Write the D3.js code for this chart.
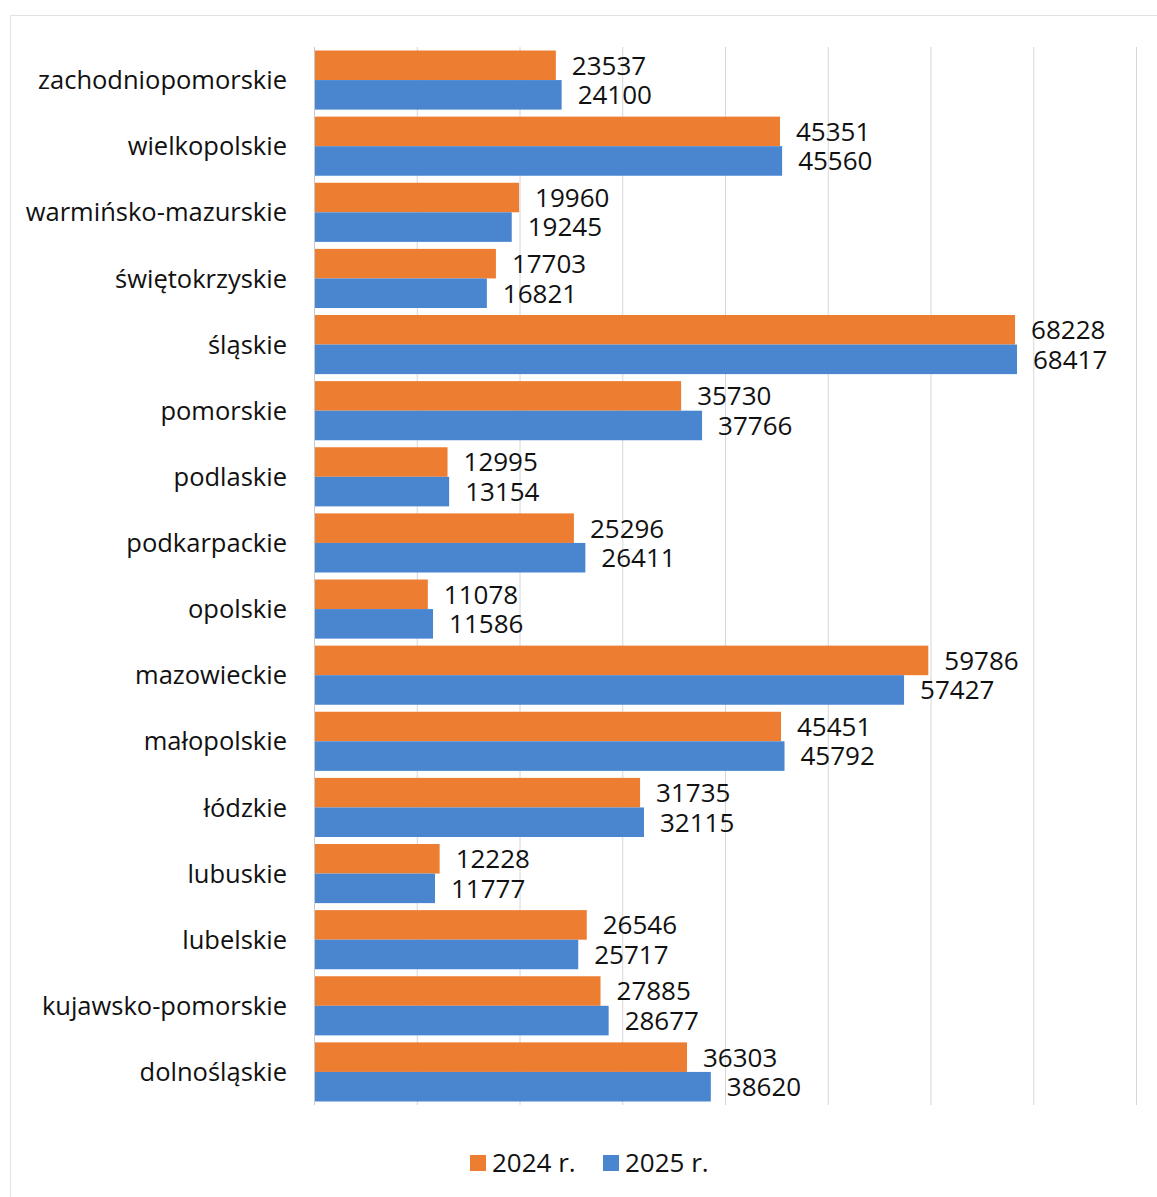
<!DOCTYPE html>
<html>
<head>
<meta charset="utf-8">
<script src="https://cdn.jsdelivr.net/npm/d3@7"></script>
<style>
  body { margin: 0; background: #fff; }
  svg { display: block; }
</style>
</head>
<body>
<svg id="chart" width="1157" height="1197"></svg>
<script>
// voivodeships, top to bottom as shown
const regions = [
  "zachodniopomorskie", "wielkopolskie", "warmińsko-mazurskie", "świętokrzyskie",
  "śląskie", "pomorskie", "podlaskie", "podkarpackie", "opolskie", "mazowieckie",
  "małopolskie", "łódzkie", "lubuskie", "lubelskie", "kujawsko-pomorskie", "dolnośląskie"
];
const values2024 = [23537, 45351, 19960, 17703, 68228, 35730, 12995, 25296, 11078, 59786, 45451, 31735, 12228, 26546, 27885, 36303];
const values2025 = [24100, 45560, 19245, 16821, 68417, 37766, 13154, 26411, 11586, 57427, 45792, 32115, 11777, 25717, 28677, 38620];
const seriesNames = ["2024 r.", "2025 r."];
const xTicks = [0, 10000, 20000, 30000, 40000, 50000, 60000, 70000, 80000];

const colors = ["#ED7D31", "#4A86D0"];
const font = "'Open Sans', sans-serif";

const svg = d3.select("#chart");
const width = 1157, height = 1197;
const margin = { left: 314, right: 20, top: 47, bottom: 92 };

// faint frame of the chart area
svg.append("rect")
  .attr("x", 10.5).attr("y", 15.5)
  .attr("width", width).attr("height", height)
  .attr("fill", "none").attr("stroke", "#e2e2e2");

const x = d3.scaleLinear().domain([0, 80000]).range([margin.left, 1136]);
const y = d3.scaleBand().domain(regions)
  .range([margin.top, height - margin.bottom])
  .paddingInner(0.106).paddingOuter(0.053);
const sub = d3.scaleBand().domain([0, 1]).range([0, y.bandwidth()]);

// vertical gridlines
svg.append("g")
  .selectAll("line")
  .data(xTicks.slice(1))
  .join("line")
  .attr("x1", d => x(d) + 0.5).attr("x2", d => x(d) + 0.5)
  .attr("y1", margin.top).attr("y2", height - margin.bottom)
  .attr("stroke", "#d6d6d6").attr("stroke-width", 1);

const rows = regions.map((r, i) => ({ region: r, vals: [values2024[i], values2025[i]] }));

const g = svg.append("g")
  .selectAll("g")
  .data(rows)
  .join("g")
  .attr("transform", d => `translate(0,${y(d.region)})`);

g.selectAll("rect")
  .data(d => d.vals)
  .join("rect")
  .attr("x", x(0))
  .attr("y", (d, i) => sub(i))
  .attr("width", d => x(d) - x(0))
  .attr("height", sub.bandwidth())
  .attr("fill", (d, i) => colors[i]);

g.selectAll("text.val")
  .data(d => d.vals)
  .join("text")
  .attr("class", "val")
  .attr("x", d => x(d) + 16)
  .attr("y", (d, i) => sub(i) + sub.bandwidth() / 2)
  .attr("dy", "0.36em")
  .attr("font-family", font)
  .attr("font-size", 26)
  .attr("fill", "#111")
  .text(d => d);

// category axis line
svg.append("line")
  .attr("x1", x(0) + 0.5).attr("x2", x(0) + 0.5)
  .attr("y1", margin.top).attr("y2", height - margin.bottom)
  .attr("stroke", "#c8c8c8");

svg.append("g")
  .selectAll("text")
  .data(regions)
  .join("text")
  .attr("x", 287)
  .attr("y", d => y(d) + y.bandwidth() / 2)
  .attr("dy", "0.36em")
  .attr("text-anchor", "end")
  .attr("font-family", font)
  .attr("font-size", 25.5)
  .attr("fill", "#111")
  .text(d => d);

// legend
const legend = svg.append("g").attr("transform", "translate(470,1163)");
const legendX = [0, 133];
seriesNames.forEach((name, i) => {
  legend.append("rect")
    .attr("x", legendX[i]).attr("y", -8)
    .attr("width", 16).attr("height", 16)
    .attr("fill", colors[i]);
  legend.append("text")
    .attr("x", legendX[i] + 22).attr("y", 0)
    .attr("dy", "0.36em")
    .attr("font-family", font)
    .attr("font-size", 26)
    .attr("fill", "#111")
    .text(name);
});
</script>
</body>
</html>
